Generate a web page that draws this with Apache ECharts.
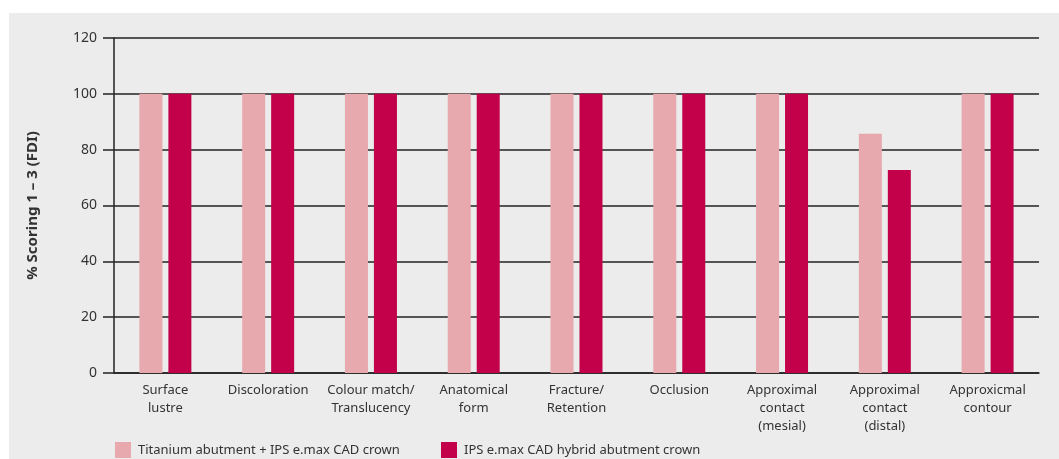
<!DOCTYPE html>
<html>
<head>
<meta charset="utf-8">
<script src="https://cdn.jsdelivr.net/npm/echarts@6/dist/echarts.min.js"></script>
<style>
  html, body { margin: 0; padding: 0; background: #fff; }
  #panel { position: absolute; left: 9px; top: 13px; width: 1050px; height: 446px; background: #ebeceb; }
  #chart { position: absolute; left: 0; top: 0; width: 1059px; height: 459px; }
</style>
</head>
<body>
<div id="panel"></div>
<div id="chart"></div>
<script>
// categories on the x axis
const categories = [
  'Surface\nlustre',
  'Discoloration',
  'Colour match/\nTranslucency',
  'Anatomical\nform',
  'Fracture/\nRetention',
  'Occlusion',
  'Approximal\ncontact\n(mesial)',
  'Approximal\ncontact\n(distal)',
  'Approxicmal\ncontour'
]

const seriesNames = [
  'Titanium abutment + IPS e.max CAD crown',
  'IPS e.max CAD hybrid abutment crown'
]

// % scoring 1-3 (FDI)
const titaniumValues = [100, 100, 100, 100, 100, 100, 100, 85.7, 100]
const hybridValues = [100, 100, 100, 100, 100, 100, 100, 72.7, 100]

const yTicks = [0, 20, 40, 60, 80, 100, 120]

const font = 'Noto Sans'
const textColor = '#333'

var myChart = echarts.init(document.getElementById('chart'))

var option = {
  backgroundColor: 'transparent',
  animation: false,
  textStyle: { fontFamily: font },
  grid: { left: 114, right: 20, top: 38, bottom: 86, containLabel: false },
  legend: [
    {
      left: 115, top: 442, padding: 0,
      data: [seriesNames[0]],
      itemWidth: 16, itemHeight: 16,
      icon: 'rect',
      textStyle: { fontFamily: font, fontSize: 13, color: textColor, padding: [0, 0, 0, 2] }
    },
    {
      left: 441, top: 442, padding: 0,
      data: [seriesNames[1]],
      itemWidth: 16, itemHeight: 16,
      icon: 'rect',
      textStyle: { fontFamily: font, fontSize: 13, color: textColor, padding: [0, 0, 0, 2] }
    }
  ],
  xAxis: {
    type: 'category',
    data: categories,
    axisLine: { lineStyle: { color: '#222', width: 1.5 } },
    axisTick: { show: false },
    axisLabel: {
      color: textColor, fontFamily: font, fontSize: 13,
      lineHeight: 18, margin: 8, interval: 0
    }
  },
  yAxis: {
    type: 'value',
    min: yTicks[0],
    max: yTicks[yTicks.length - 1],
    interval: 20,
    name: '% Scoring 1 – 3 (FDI)',
    nameLocation: 'middle',
    nameGap: 74,
    nameTextStyle: { fontFamily: font, fontSize: 15, fontWeight: 'bold', color: textColor },
    axisLine: { show: true, lineStyle: { color: '#222', width: 1.5 } },
    axisTick: { show: true, length: 11, lineStyle: { color: '#222', width: 1.5 } },
    axisLabel: { color: textColor, fontFamily: font, fontSize: 14, margin: 17 },
    splitLine: { show: true, lineStyle: { color: '#222', width: 1.5 } }
  },
  series: [
    {
      name: seriesNames[0],
      type: 'bar',
      data: titaniumValues,
      barWidth: 23,
      barGap: '26%',
      itemStyle: { color: '#e8a9ae' }
    },
    {
      name: seriesNames[1],
      type: 'bar',
      data: hybridValues,
      barWidth: 23,
      barGap: '26%',
      itemStyle: { color: '#c3004a' }
    }
  ]
}

myChart.setOption(option)
</script>
</body>
</html>
